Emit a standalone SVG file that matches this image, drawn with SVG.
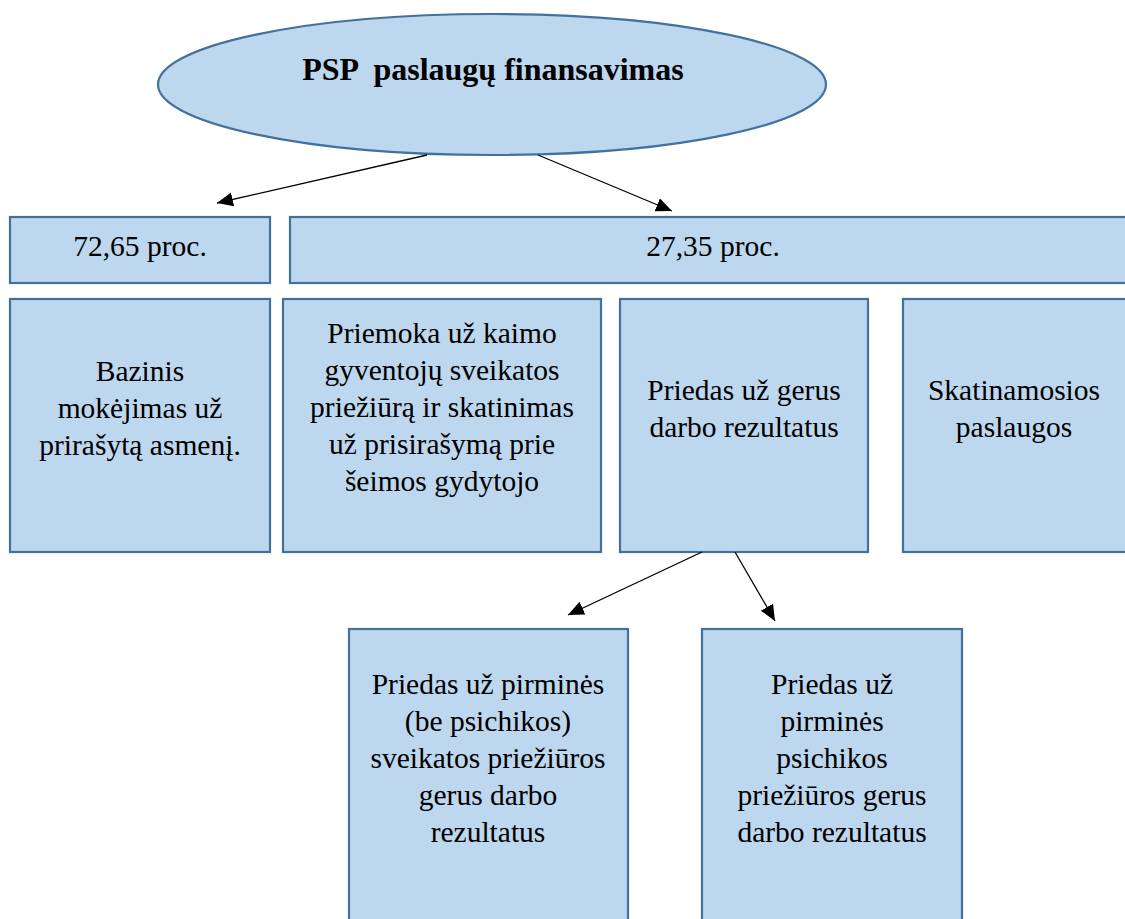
<svg xmlns="http://www.w3.org/2000/svg" width="1125" height="919" viewBox="0 0 1125 919">
<style>
.box{fill:#BDD7EE;stroke:#41719C;stroke-width:2.2}
.t{font-family:"Liberation Serif",serif;font-size:29.5px;fill:#000;text-anchor:middle}
.title{font-family:"Liberation Serif",serif;font-size:32px;font-weight:bold;fill:#000;text-anchor:middle;white-space:pre}
.conn{stroke:#000;stroke-width:1.3;fill:none;marker-end:url(#arr)}
</style>
<defs>
<marker id="arr" markerUnits="userSpaceOnUse" markerWidth="18" markerHeight="16" refX="16" refY="7" orient="auto">
<path d="M0,0 L16,7 L0,14 Z" fill="#000"/>
</marker>
</defs>
<rect width="1125" height="919" fill="#fff"/>
<g id="root">
<ellipse class="box" cx="492" cy="84.5" rx="334" ry="70.5"/>
<text class="title" x="493" y="80" xml:space="preserve">PSP  paslaugų finansavimas</text>
</g>
<g id="p7265">
<rect class="box" x="10" y="217" width="260" height="66"/>
<text class="t" x="140" y="256">72,65 proc.</text>
</g>
<g id="p2735">
<rect class="box" x="290" y="217" width="846" height="66"/>
<text class="t" x="713" y="256">27,35 proc.</text>
</g>
<g id="bazinis">
<rect class="box" x="10" y="299" width="260" height="253"/>
<text class="t" x="140" y="381">Bazinis</text>
<text class="t" x="140" y="418">mokėjimas už</text>
<text class="t" x="140" y="455">prirašytą asmenį.</text>
</g>
<g id="priemoka">
<rect class="box" x="283" y="299" width="318" height="253"/>
<text class="t" x="442" y="343">Priemoka už kaimo</text>
<text class="t" x="442" y="380">gyventojų sveikatos</text>
<text class="t" x="442" y="417">priežiūrą ir skatinimas</text>
<text class="t" x="442" y="454">už prisirašymą prie</text>
<text class="t" x="442" y="491">šeimos gydytojo</text>
</g>
<g id="priedas">
<rect class="box" x="620" y="299" width="248" height="253"/>
<text class="t" x="744" y="400">Priedas už gerus</text>
<text class="t" x="744" y="437">darbo rezultatus</text>
</g>
<g id="skatinamosios">
<rect class="box" x="903" y="299" width="230" height="253"/>
<text class="t" x="1014" y="400">Skatinamosios</text>
<text class="t" x="1014" y="437">paslaugos</text>
</g>
<g id="priedas1">
<rect class="box" x="349" y="629" width="279" height="300"/>
<text class="t" x="488" y="694">Priedas už pirminės</text>
<text class="t" x="488" y="731">(be psichikos)</text>
<text class="t" x="488" y="768">sveikatos priežiūros</text>
<text class="t" x="488" y="805">gerus darbo</text>
<text class="t" x="488" y="842">rezultatus</text>
</g>
<g id="priedas2">
<rect class="box" x="702" y="629" width="260" height="300"/>
<text class="t" x="832" y="694">Priedas už</text>
<text class="t" x="832" y="731">pirminės</text>
<text class="t" x="832" y="768">psichikos</text>
<text class="t" x="832" y="805">priežiūros gerus</text>
<text class="t" x="832" y="842">darbo rezultatus</text>
</g>
<g id="connectors">
<line class="conn" x1="427" y1="155" x2="217" y2="203"/>
<line class="conn" x1="538" y1="155" x2="672" y2="211"/>
<line class="conn" x1="702" y1="552" x2="568" y2="615"/>
<line class="conn" x1="735" y1="552" x2="775" y2="621"/>
</g>
</svg>
